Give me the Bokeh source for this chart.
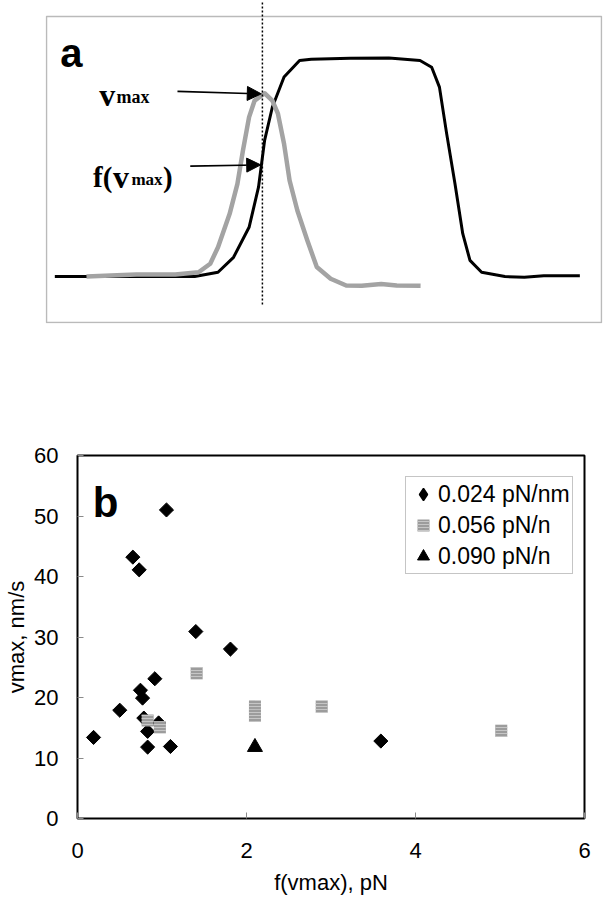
import numpy as np
from bokeh.plotting import figure
from bokeh.models import (ColumnDataSource, Legend, LegendItem, Label, Arrow, NormalHead,
                          BoxAnnotation, FixedTicker, Range1d)
from bokeh.embed import file_html
from bokeh.resources import INLINE

# ---------------- Panel a data (arbitrary time / signal units) ----------------
black_t = [1.5, 7.1, 26.7, 30.9, 33.7, 36.5, 38.2, 39.3, 40.7, 42.8, 45.6, 47.7, 54.7,
           61.7, 67.3, 69.4, 70.8, 72.1, 73.6, 75.0, 76.3, 78.4, 82.6, 86.1, 89.6, 96.1]
black_y = [15.0, 15.0, 15.0, 16.4, 21.3, 31.1, 44.2, 59.5, 70.4, 80.2, 85.6, 86.0, 86.3,
           86.4, 85.6, 83.4, 76.9, 61.7, 45.3, 29.0, 20.3, 16.4, 15.0, 14.8, 15.3, 15.3]
gray_t = [7.2, 12.7, 16.2, 23.2, 27.4, 29.5, 30.9, 33.0, 34.4, 35.4, 36.5, 37.5, 39.3,
          40.7, 41.7, 42.8, 43.8, 45.2, 47.0, 48.7, 51.2, 54.0, 56.8, 60.3, 63.1, 67.4]
gray_y = [15.0, 15.4, 15.7, 15.7, 16.4, 19.2, 24.6, 35.5, 45.3, 56.2, 67.1, 72.5, 74.9,
          72.5, 68.2, 58.4, 46.4, 36.6, 26.8, 18.1, 14.3, 12.1, 12.0, 12.6, 12.1, 12.0]
vmax_t = 38.9

# ---------------- Panel b data ----------------
k024_f = [0.19, 0.50, 0.655, 0.73, 0.745, 0.77, 0.785, 0.83, 0.83, 0.96, 0.915, 1.053,
          1.10, 1.40, 1.81, 3.59]
k024_v = [13.4, 17.9, 43.2, 41.1, 21.2, 19.9, 16.6, 14.4, 11.8, 15.8, 23.1, 51.0,
          11.9, 30.9, 28.0, 12.8]
k056_f = [0.83, 0.975, 1.41, 2.10, 2.10, 2.89, 5.015]
k056_v = [16.2, 15.1, 24.0, 18.5, 17.0, 18.5, 14.5]
k090_f = [2.10]
k090_v = [11.8]
x_ticks = [0, 2, 4, 6]
y_ticks = [0, 10, 20, 30, 40, 50, 60]
legend_labels = ["0.024 pN/nm", "0.056 pN/n", "0.090 pN/n"]

SANS = "Liberation Sans"
SERIF = "Liberation Serif"

# ================= Panel a =================
pa = figure(width=610, height=338,
            x_range=Range1d(-0.18, 100.18), y_range=Range1d(-0.33, 105.2),
            x_axis_location=None, y_axis_location=None,
            toolbar_location=None, output_backend="svg",
            min_border_left=45, min_border_right=8, min_border_top=0, min_border_bottom=15,
            outline_line_color=None)
pa.grid.visible = False

pa.add_layout(BoxAnnotation(left=0, right=100, bottom=0, top=100,
                            fill_color=None, line_color="#1a1a1a", line_width=1.5))

pa.line(black_t, black_y, line_color="black", line_width=3, line_join="round")
pa.line(gray_t, gray_y, line_color="#a3a3a3", line_width=4.5, line_join="round")
pa.segment(x0=[vmax_t], y0=[5.9], x1=[vmax_t], y1=[105.2],
           line_color="black", line_width=1.5, line_dash="2 2")

pa.add_layout(Arrow(end=NormalHead(size=14, fill_color="black", line_color="black"),
                    x_start=23.6, y_start=75.5, x_end=38.7, y_end=74.7,
                    line_color="black", line_width=1.6))
pa.add_layout(Arrow(end=NormalHead(size=14, fill_color="black", line_color="black"),
                    x_start=25.9, y_start=51.1, x_end=38.6, y_end=51.5,
                    line_color="black", line_width=1.6))

def lab(p, x, y, t, size, font, style="bold"):
    p.add_layout(Label(x=x, y=y, text=t, text_font=font, text_font_size=size,
                       text_font_style=style, text_baseline="alphabetic",
                       text_align="left", text_color="black"))

lab(pa, 2.5, 87.9, "a", "40px", SANS)
lab(pa, 9.5, 74.2, "v", "32px", SERIF)
lab(pa, 12.6, 73.6, "max", "18px", SERIF)
lab(pa, 8.4, 47.4, "f(", "29px", SERIF)
lab(pa, 12.0, 47.4, "v", "32px", SERIF)
lab(pa, 15.3, 46.6, "max", "17px", SERIF)
lab(pa, 21.0, 47.4, ")", "29px", SERIF)

# ================= Panel b =================
pb = figure(width=610, height=562,
            x_range=Range1d(0, 6), y_range=Range1d(0, 60),
            toolbar_location=None, output_backend="svg",
            min_border_left=77, min_border_right=26, min_border_top=117, min_border_bottom=82,
            outline_line_color="black", outline_line_width=2)
pb.grid.visible = False
pb.xaxis.ticker = FixedTicker(ticks=x_ticks)
pb.yaxis.ticker = FixedTicker(ticks=y_ticks)
for ax in (pb.xaxis[0], pb.yaxis[0]):
    ax.axis_line_color = None
    ax.major_tick_in = 6
    ax.major_tick_out = 0
    ax.major_tick_line_color = "#8a8a8a"
    ax.minor_tick_line_color = None
    ax.major_label_text_font = SANS
    ax.major_label_text_font_size = "22px"
    ax.major_label_text_color = "black"
    ax.axis_label_text_font = SANS
    ax.axis_label_text_font_size = "22px"
    ax.axis_label_text_font_style = "normal"
    ax.axis_label_text_color = "black"
pb.xaxis.axis_label = "f(vmax), pN"
pb.yaxis.axis_label = "vmax, nm/s"
pb.xaxis.major_label_standoff = 24
pb.xaxis.axis_label_standoff = 9
pb.yaxis.major_label_standoff = 19
pb.yaxis.axis_label_standoff = 2

s1 = ColumnDataSource(dict(x=k024_f, y=k024_v))
s2 = ColumnDataSource(dict(x=k056_f, y=k056_v))
s3 = ColumnDataSource(dict(x=k090_f, y=k090_v))
r1 = pb.scatter("x", "y", source=s1, marker="square", angle=np.pi / 4, size=10,
                fill_color="black", line_color="black", line_width=1)
r2 = pb.scatter("x", "y", source=s2, marker="square", size=12,
                fill_color="#9c9c9c", line_color=None,
                hatch_pattern="horizontal_line", hatch_color="#c6c6c6",
                hatch_scale=3, hatch_weight=1)
r3 = pb.scatter("x", "y", source=s3, marker="triangle", size=15,
                fill_color="black", line_color="black")
# legend key for the diamond series (legend keys are drawn unrotated)
r1_key = pb.scatter(x=[float("nan")], y=[float("nan")], marker="diamond",
                    fill_color="black", line_color="black", line_width=1.5)

lab(pb, 0.18, 52.2, "b", "42px", SANS)

legend = Legend(items=[LegendItem(label=legend_labels[0], renderers=[r1_key]),
                       LegendItem(label=legend_labels[1], renderers=[r2]),
                       LegendItem(label=legend_labels[2], renderers=[r3])],
                location=(328, 244), margin=0, padding=2, spacing=1,
                glyph_height=30, glyph_width=30, label_standoff=-3, label_width=128,
                label_text_font=SANS, label_text_font_size="23px",
                label_text_color="black",
                border_line_color="#8c8c8c", border_line_width=1,
                background_fill_color="white", background_fill_alpha=1.0)
pb.add_layout(legend)

open("out.html", "w").write(file_html([pa, pb], INLINE))
